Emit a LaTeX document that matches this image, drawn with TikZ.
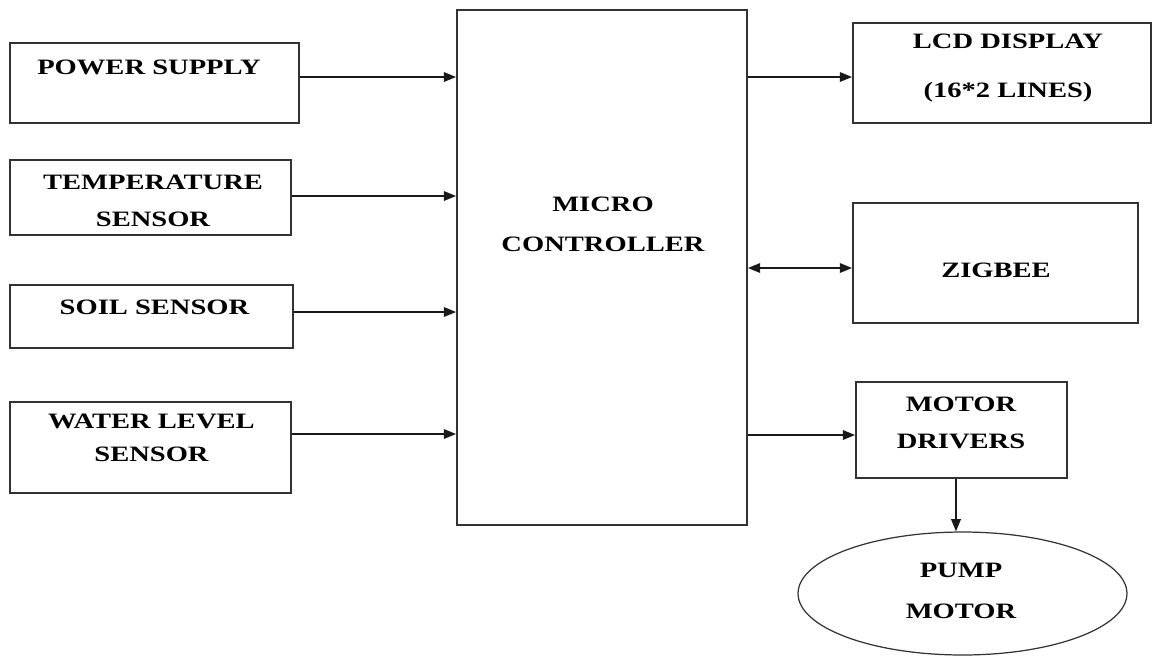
\documentclass[tikz,border=0pt]{standalone}
\usepackage{fontspec}
\setmainfont{Liberation Serif}[FakeStretch=1.3]
\usetikzlibrary{arrows.meta,shapes.geometric}
\tikzset{
	blk/.style={draw=black!80, line width=1.1pt, inner sep=0pt},
	lbl/.style={font=\fontsize{12.5}{21}\selectfont\bfseries, align=center, inner sep=0pt},
	arr/.style={->, >={Triangle[length=7pt,width=5.5pt]}, line width=0.9pt, draw=black!90},
}

\begin{document}
\begin{tikzpicture}[x=0.02cm, y=-0.02cm]
		%%%%% START %%%%%
		\useasboundingbox (0, 0) rectangle (1154, 657);
		
		% inputs
		\node[blk, minimum width=5.78cm, minimum height=1.6cm] (pwr) at (154.5, 83) {};
		\node[blk, minimum width=5.62cm, minimum height=1.5cm] (temp) at (150.5, 197.5) {};
		\node[blk, minimum width=5.66cm, minimum height=1.26cm] (soil) at (151.5, 316.5) {};
		\node[blk, minimum width=5.62cm, minimum height=1.82cm] (water) at (150.5, 447.5) {};
		
		\node[lbl] (pwrtxt) at (149, 67.5) {POWER SUPPLY};
		\node[lbl] (temptxt) at (153, 201) {TEMPERATURE\\SENSOR};
		\node[lbl] (soiltxt) at (154.5, 307.5) {SOIL SENSOR};
		\node[lbl] (watertxt) at (151.5, 438) {WATER LEVEL\\[-2pt]SENSOR};
		
		% controller
		\node[blk, minimum width=5.8cm, minimum height=10.3cm] (mc) at (602, 267.5) {};
		\node[lbl] (mctxt) at (603, 224) {MICRO\\[1.7pt]CONTROLLER};
		
		% outputs
		\node[blk, minimum width=5.96cm, minimum height=2cm] (lcd) at (1002, 73) {};
		\node[blk, minimum width=5.7cm, minimum height=2.4cm] (zig) at (995.5, 263) {};
		\node[blk, minimum width=4.22cm, minimum height=1.92cm] (md) at (961.5, 430) {};
		\node[ellipse, draw=black!80, line width=0.7pt, inner sep=0pt,
			minimum width=6.58cm, minimum height=2.46cm] (pump) at (962.5, 593.5) {};
		
		\node[lbl] (lcdtxt) at (1008, 68) {LCD DISPLAY\\[7pt](16*2 LINES)};
		\node[lbl] (zigtxt) at (996, 270) {ZIGBEE};
		\node[lbl] (mdtxt) at (961, 423) {MOTOR\\DRIVERS};
		\node[lbl] (pumptxt) at (961, 591) {PUMP\\[2.5pt]MOTOR};
		
		% connections
		\draw[arr] (pwr.east |- 0,77) -- (mc.west |- 0,77);
		\draw[arr] (temp.east |- 0,196) -- (mc.west |- 0,196);
		\draw[arr] (soil.east |- 0,312) -- (mc.west |- 0,312);
		\draw[arr] (water.east |- 0,434) -- (mc.west |- 0,434);
		
		\draw[arr] (mc.east |- 0,77) -- (lcd.west |- 0,77);
		\draw[arr, <->] (mc.east |- 0,268) -- (zig.west |- 0,268);
		\draw[arr] (mc.east |- 0,435) -- (md.west |- 0,435);
		\draw[arr] (md.south -| 956,0) -- (pump.north -| 956,0);
		%%%%% END %%%%%
\end{tikzpicture}
\end{document}
